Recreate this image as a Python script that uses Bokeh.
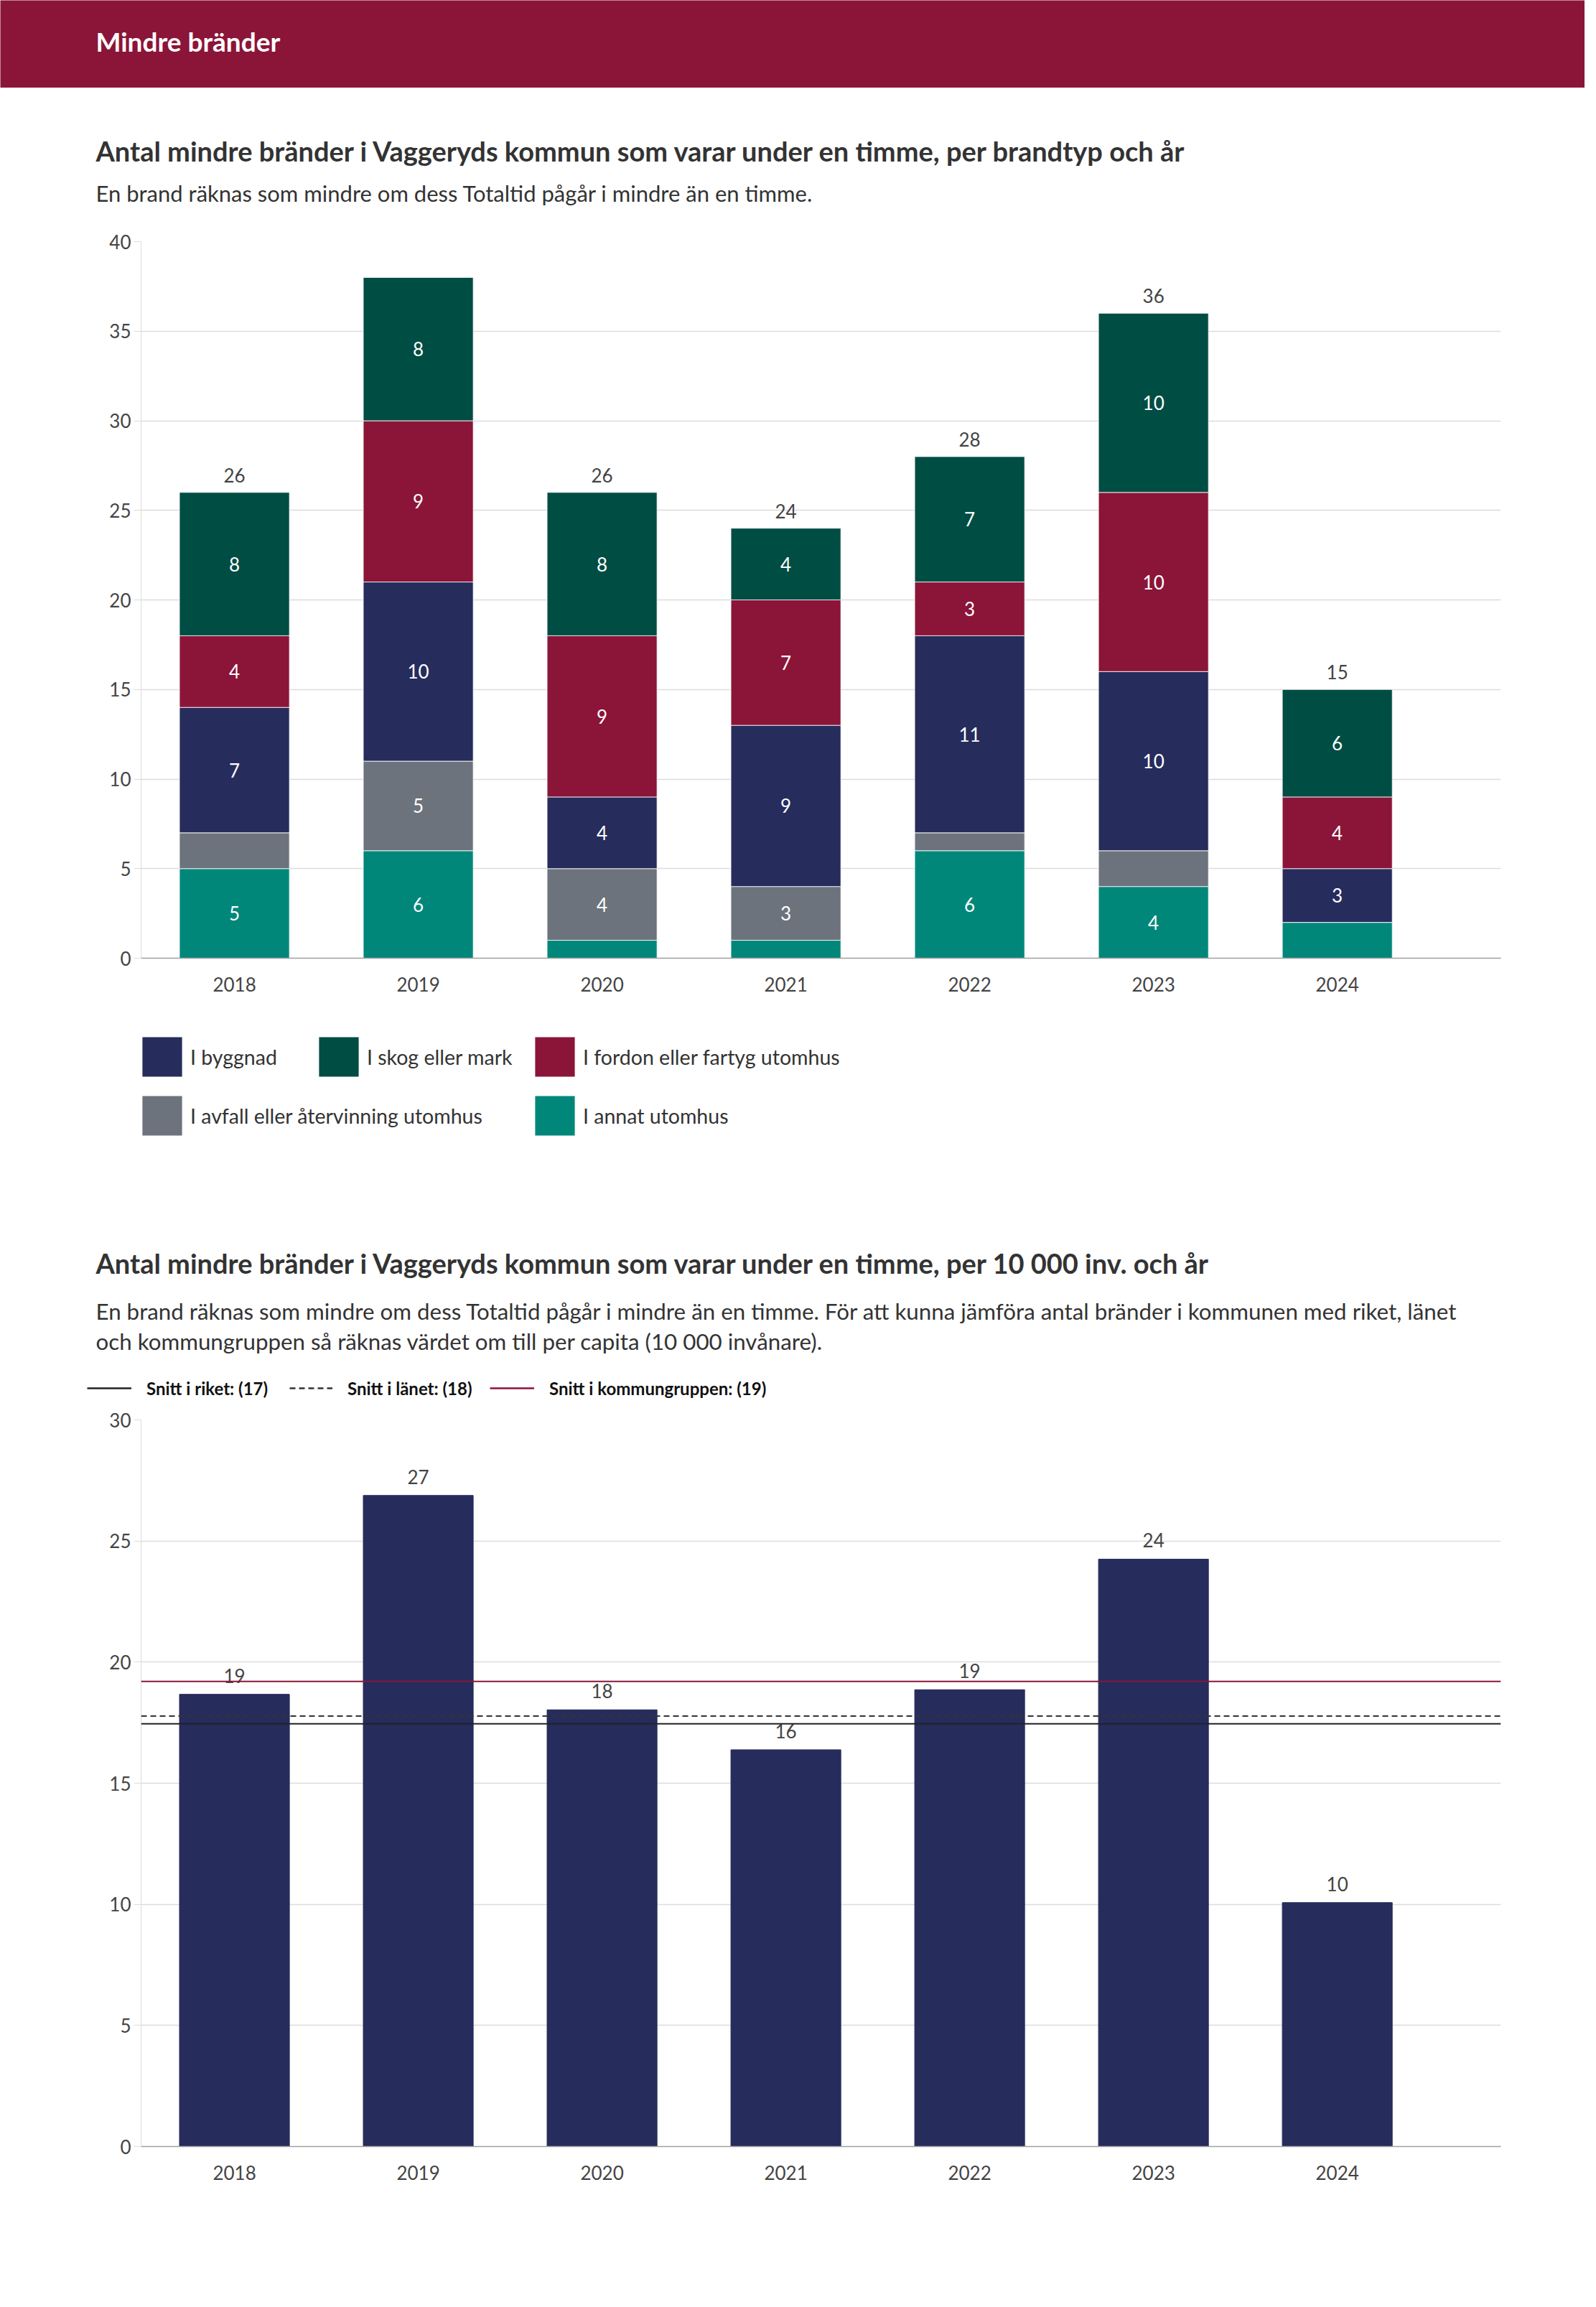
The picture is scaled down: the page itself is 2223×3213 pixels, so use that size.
from bokeh.plotting import figure
from bokeh.models import (ColumnDataSource, Label, Legend, LegendItem, Span,
                          FixedTicker, Range1d)
from bokeh.layouts import column
from bokeh.embed import file_html
from bokeh.resources import INLINE
from bokeh.core.properties import value

# ---------------- data ----------------
years = ["2018", "2019", "2020", "2021", "2022", "2023", "2024"]
# stacked series, bottom to top
annat_utomhus = [5, 6, 1, 1, 6, 4, 2]
avfall_utomhus = [2, 5, 4, 3, 1, 2, 0]
byggnad = [7, 10, 4, 9, 11, 10, 3]
fordon_utomhus = [4, 9, 9, 7, 3, 10, 4]
skog_mark = [8, 8, 8, 4, 7, 10, 6]

per_10000 = [18.67, 26.88, 18.03, 16.38, 18.86, 24.25, 10.07]
snitt_riket = 17.45
snitt_lanet = 17.77
snitt_kommungrupp = 19.2
ref_labels = ["Snitt i riket: (17)", "Snitt i länet: (18)", "Snitt i kommungruppen: (19)"]

header_text = "Mindre bränder"
title1 = "Antal mindre bränder i Vaggeryds kommun som varar under en timme, per brandtyp och år"
sub1 = "En brand räknas som mindre om dess Totaltid pågår i mindre än en timme."
title2 = "Antal mindre bränder i Vaggeryds kommun som varar under en timme, per 10 000 inv. och år"
sub2a = ("En brand räknas som mindre om dess Totaltid pågår i mindre än en timme. För att kunna "
         "jämföra antal bränder i kommunen med riket, länet")
sub2b = "och kommungruppen så räknas värdet om till per capita (10 000 invånare)."

# ---------------- style ----------------
FONT = "Lato"
C_NAVY = "#262c5c"
C_GREEN = "#004d44"
C_MAROON = "#8b1538"
C_GRAY = "#6c737c"
C_TEAL = "#00877a"
C_TEXT = "#333333"
C_TICK = "#444444"

W = 2207
XR = (-0.508, 6.89)
BAR_W = 0.598
BL, BR = 196, 117          # left / right borders of the chart frames
TX = 133                   # left edge of the texts
xs = list(range(len(years)))


def blank(h, bg="white"):
    f = figure(width=W, height=h, toolbar_location=None, output_backend="svg",
               x_axis_location=None, y_axis_location=None, min_border=0,
               x_range=Range1d(0, W), y_range=Range1d(0, h),
               background_fill_color=bg, border_fill_color=bg)
    f.outline_line_color = None
    f.grid.visible = False
    f.frame_align = False
    return f


def add_text(p, text, x, y, size, bold=False, color=C_TEXT):
    p.add_layout(Label(x=x, y=y, x_units="screen", y_units="screen", text=text,
                       text_font=FONT, text_font_size=size,
                       text_font_style="bold" if bold else "normal",
                       text_color=color, text_baseline="middle", text_align="left"))


def style_axes(p, ymax, ystep):
    p.outline_line_color = None
    p.frame_align = False
    p.xgrid.visible = False
    p.ygrid.grid_line_color = "#dcdcdc"
    p.ygrid.grid_line_width = 1.5
    p.yaxis.ticker = FixedTicker(ticks=list(range(0, ymax + 1, ystep)))
    p.xaxis.ticker = FixedTicker(ticks=xs)
    p.xaxis.major_label_overrides = {i: y for i, y in enumerate(years)}
    for ax in (p.xaxis[0], p.yaxis[0]):
        ax.major_label_text_font = FONT
        ax.major_label_text_font_size = "26px"
        ax.major_label_text_color = C_TICK
        ax.minor_tick_line_color = None
        ax.major_tick_in = 0
    p.xaxis.axis_line_color = "#a0a0a0"
    p.xaxis.axis_line_width = 1.5
    p.xaxis.major_tick_line_color = None
    p.xaxis.major_tick_out = 0
    p.xaxis.major_label_standoff = 26
    p.yaxis.axis_line_color = "#dcdcdc"
    p.yaxis.major_tick_line_color = "#dcdcdc"
    p.yaxis.major_tick_out = 10
    p.yaxis.major_label_standoff = 4


# ---------------- header ----------------
hdr = blank(122, C_MAROON)
add_text(hdr, header_text, TX, 65, "37px", bold=True, color="white")

# ---------------- chart 1 texts ----------------
t1 = blank(194)
add_text(t1, title1, TX, 107, "38px", bold=True)
add_text(t1, sub1, TX, 48, "31px")

# ---------------- chart 1 ----------------
p1 = figure(width=W, height=1098, toolbar_location=None, output_backend="svg",
            x_range=Range1d(*XR), y_range=Range1d(0, 40),
            min_border_left=BL, min_border_right=BR,
            min_border_top=20, min_border_bottom=80)
style_axes(p1, 40, 5)

stack_keys = ["annat", "avfall", "byggnad", "fordon", "skog"]
series = [annat_utomhus, avfall_utomhus, byggnad, fordon_utomhus, skog_mark]
colors = [C_TEAL, C_GRAY, C_NAVY, C_MAROON, C_GREEN]
src1 = ColumnDataSource(dict(x=xs, **{k: v for k, v in zip(stack_keys, series)}))
p1.vbar_stack(stack_keys, x="x", width=BAR_W, color=colors, source=src1,
              line_color="white", line_width=0.8)

seg_x, seg_y, seg_t = [], [], []
tot_x, tot_y, tot_t = [], [], []
for i in xs:
    base = 0
    for s in series:
        v = s[i]
        if v >= 3:
            seg_x.append(i)
            seg_y.append(base + v / 2)
            seg_t.append(str(v))
        base += v
    if base + 2.5 <= 40:
        tot_x.append(i)
        tot_y.append(base)
        tot_t.append(str(base))

p1.text(x="x", y="y", text="t", source=ColumnDataSource(dict(x=seg_x, y=seg_y, t=seg_t)),
        text_align="center", text_baseline="middle", text_color="white",
        text_font=value(FONT), text_font_size="26px")
p1.text(x="x", y="y", text="t", source=ColumnDataSource(dict(x=tot_x, y=tot_y, t=tot_t)),
        text_align="center", text_baseline="bottom", y_offset=-14, text_color=C_TICK,
        text_font=value(FONT), text_font_size="26px")

# ---------------- chart 1 legend ----------------
lg1 = blank(236)
legend_names = ["I byggnad", "I skog eller mark", "I fordon eller fartyg utomhus",
                "I avfall eller återvinning utomhus", "I annat utomhus"]
legend_cols = [C_NAVY, C_GREEN, C_MAROON, C_GRAY, C_TEAL]
legend_pos = [(191, 144), (437, 144), (738, 144), (191, 62), (738, 62)]
for lab, col, (lx, ly) in zip(legend_names, legend_cols, legend_pos):
    # zero-height handle: only its style is used, by the legend swatch
    r = lg1.vbar(x=[0], top=[0], bottom=[0], width=0, fill_color=col, line_color=None)
    lg1.add_layout(Legend(items=[LegendItem(label=lab, renderers=[r])],
                          location=(lx, ly), orientation="horizontal",
                          glyph_width=69, glyph_height=69, label_standoff=5,
                          padding=0, margin=0, spacing=0,
                          border_line_color=None, background_fill_alpha=0,
                          label_text_font=FONT, label_text_font_size="28.5px",
                          label_text_color=C_TEXT))

# ---------------- chart 2 texts + legend ----------------
t2 = blank(307)
add_text(t2, title2, TX, 199, "38px", bold=True)
add_text(t2, sub2a, TX, 132, "31.3px")
add_text(t2, sub2b, TX, 90, "31.3px")

ref_cols = ["#222222", "#333333", C_MAROON]
ref_dash = ["solid", "8 5", "solid"]
leg2_pos = [(121, 62), (403, 60), (682, 62)]
for lab, c, d, (lx, gw) in zip(ref_labels, ref_cols, ref_dash, leg2_pos):
    # one-point handle: draws nothing, only lends its style to the legend line
    r = t2.line(x=[0], y=[0], line_color=c, line_width=2.5, line_dash=d)
    t2.add_layout(Legend(items=[LegendItem(label=lab, renderers=[r])],
                         location=(lx, 9), orientation="horizontal",
                         glyph_width=gw, glyph_height=30, label_standoff=21,
                         padding=0, margin=0, spacing=0,
                         border_line_color=None, background_fill_alpha=0,
                         label_text_font=FONT, label_text_font_size="24px",
                         label_text_font_style="bold", label_text_color="#111111"))

# ---------------- chart 2 ----------------
p2 = figure(width=W, height=1240, toolbar_location=None, output_backend="svg",
            x_range=Range1d(*XR), y_range=Range1d(0, 30),
            min_border_left=BL, min_border_right=BR,
            min_border_top=20, min_border_bottom=208)
style_axes(p2, 30, 5)

src2 = ColumnDataSource(dict(x=xs, v=per_10000, t=[str(round(v)) for v in per_10000]))
p2.vbar(x="x", top="v", width=BAR_W, color=C_NAVY, source=src2)
p2.text(x="x", y="v", text="t", source=src2,
        text_align="center", text_baseline="bottom", y_offset=-16, text_color=C_TICK,
        text_font=value(FONT), text_font_size="26px")

for v, c, d in zip([snitt_riket, snitt_lanet, snitt_kommungrupp], ref_cols, ref_dash):
    p2.add_layout(Span(location=v, dimension="width", line_color=c, line_width=2,
                       line_dash=d))

layout = column(hdr, t1, p1, lg1, t2, p2, spacing=0)
open("out.html", "w").write(file_html(layout, INLINE))
